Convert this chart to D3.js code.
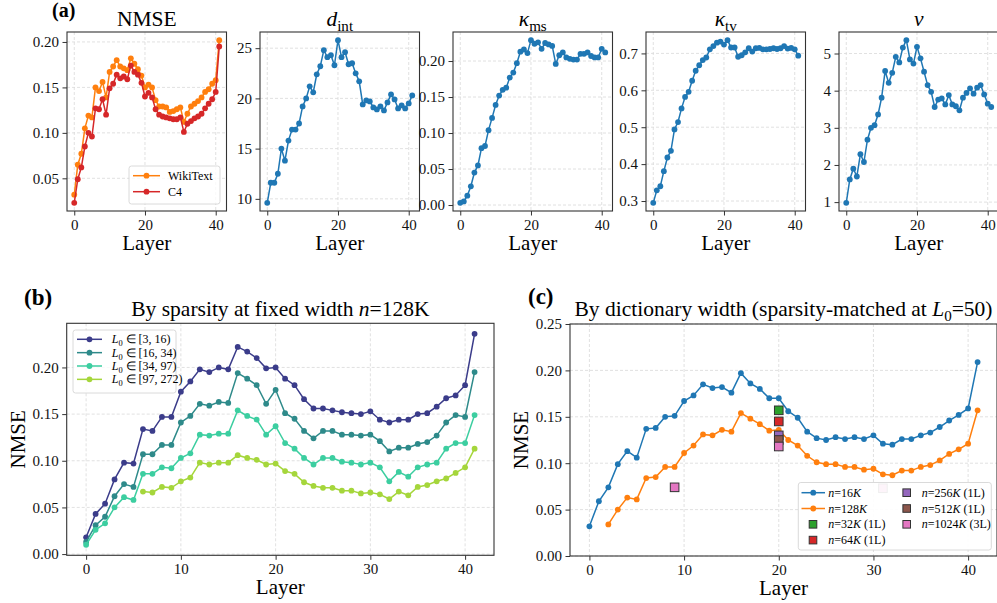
<!DOCTYPE html>
<html>
<head>
<meta charset="utf-8">
<script src="https://cdn.jsdelivr.net/npm/d3@7"></script>
<style>
body { margin: 0; background: #fff; }
svg { font-family: "Liberation Serif", "Times New Roman", serif; }
.axis text { font-size: 15px; fill: #111; }
.axis { color: #333; }
.grid { stroke: #d9d9d9; stroke-width: 0.8; stroke-dasharray: 3,2; }
</style>
</head>
<body>
<svg id="fig" width="997" height="603"></svg>
<script>
// layers 0..41
var layers = d3.range(42)

// (a) per-layer metrics
var nmseWiki = [0.032, 0.065, 0.077, 0.105, 0.119, 0.117, 0.150, 0.146, 0.156, 0.139, 0.167, 0.173, 0.180, 0.173, 0.171, 0.169,
    0.182, 0.176, 0.170, 0.163, 0.150, 0.153, 0.150, 0.136, 0.129, 0.129, 0.128, 0.123, 0.124, 0.126, 0.128, 0.112,
    0.121, 0.129, 0.132, 0.135, 0.139, 0.145, 0.148, 0.154, 0.158, 0.202]
var nmseC4 = [0.023, 0.049, 0.062, 0.085, 0.100, 0.096, 0.127, 0.126, 0.137, 0.120, 0.149, 0.154, 0.164, 0.160, 0.162, 0.159,
    0.174, 0.167, 0.164, 0.155, 0.140, 0.144, 0.139, 0.126, 0.120, 0.118, 0.117, 0.116, 0.115, 0.115, 0.117, 0.101,
    0.110, 0.113, 0.116, 0.118, 0.121, 0.127, 0.132, 0.137, 0.145, 0.195]
var dInt = [9.6, 11.6, 11.6, 12.5, 15.0, 13.8, 15.8, 16.9, 16.9, 17.5, 19.2, 20.0, 21.2, 20.6, 22.4, 23.2,
    24.8, 24.1, 24.3, 23.3, 25.8, 24.1, 24.6, 23.4, 23.5, 22.5, 21.7, 19.4, 19.8, 19.7, 19.1, 18.9,
    19.2, 18.8, 19.6, 20.4, 19.9, 19.0, 19.3, 19.0, 19.5, 20.3]
var kappaMs = [0.003, 0.005, 0.013, 0.026, 0.045, 0.055, 0.079, 0.082, 0.104, 0.121, 0.139, 0.152, 0.160, 0.163, 0.177, 0.184,
    0.197, 0.213, 0.216, 0.211, 0.229, 0.224, 0.226, 0.217, 0.225, 0.223, 0.221, 0.196, 0.208, 0.212, 0.205, 0.203,
    0.202, 0.202, 0.210, 0.210, 0.212, 0.207, 0.205, 0.205, 0.217, 0.212]
var kappaTv = [0.295, 0.329, 0.340, 0.381, 0.418, 0.436, 0.494, 0.514, 0.551, 0.582, 0.596, 0.626, 0.653, 0.668, 0.682, 0.689,
    0.711, 0.720, 0.729, 0.732, 0.724, 0.736, 0.716, 0.716, 0.691, 0.695, 0.703, 0.714, 0.705, 0.714, 0.715, 0.711,
    0.711, 0.712, 0.714, 0.712, 0.714, 0.720, 0.713, 0.715, 0.711, 0.694]
var nu = [0.98, 1.61, 1.90, 1.69, 2.29, 2.08, 2.68, 3.00, 3.07, 3.36, 3.81, 4.53, 4.21, 4.48, 4.91, 4.76,
    5.16, 5.36, 4.84, 4.73, 5.18, 4.87, 4.51, 4.15, 3.97, 3.56, 3.76, 3.79, 3.63, 3.88, 3.63, 3.58,
    3.47, 3.81, 3.94, 4.06, 3.92, 4.08, 4.15, 3.90, 3.65, 3.56]

// (b) NMSE by sparsity bucket at n=128K
var l0Buckets = ['[3, 16)', '[16, 34)', '[34, 97)', '[97, 272)']
var l0Colors = ['#3b3c8a', '#2e8a8a', '#3ccea0', '#a5d63b']
var l0Low = [0.018, 0.043, 0.054, 0.080, 0.098, 0.097, 0.134, 0.132, 0.147, 0.147, 0.174, 0.185, 0.198, 0.195, 0.200, 0.198,
    0.222, 0.217, 0.210, 0.199, 0.200, 0.188, 0.181, 0.166, 0.156, 0.156, 0.154, 0.152, 0.151, 0.150, 0.153, 0.144,
    0.141, 0.144, 0.144, 0.150, 0.151, 0.158, 0.167, 0.170, 0.181, 0.236]
var l0Mid1 = [0.013, 0.031, 0.040, 0.062, 0.075, 0.072, 0.107, 0.107, 0.117, 0.117, 0.141, 0.148, 0.161, 0.159, 0.163, 0.162,
    0.194, 0.188, 0.181, 0.161, 0.176, 0.151, 0.145, 0.132, 0.124, 0.132, 0.132, 0.128, 0.128, 0.127, 0.128, 0.121,
    0.110, 0.114, 0.114, 0.118, 0.120, 0.127, 0.141, 0.149, 0.147, 0.195]
var l0Mid2 = [0.010, 0.026, 0.033, 0.050, 0.061, 0.058, 0.086, 0.086, 0.093, 0.092, 0.103, 0.108, 0.128, 0.127, 0.129, 0.129,
    0.154, 0.148, 0.144, 0.128, 0.137, 0.119, 0.113, 0.103, 0.096, 0.103, 0.103, 0.099, 0.098, 0.096, 0.098, 0.093,
    0.078, 0.088, 0.083, 0.093, 0.096, 0.098, 0.113, 0.119, 0.119, 0.149]
var l0High = [null, null, null, null, null, null, 0.067, 0.066, 0.072, 0.071, 0.078, 0.082, 0.098, 0.096, 0.098, 0.098,
    0.106, 0.103, 0.101, 0.096, 0.097, 0.089, 0.086, 0.077, 0.073, 0.071, 0.071, 0.068, 0.068, 0.065, 0.066, 0.064,
    0.059, 0.067, 0.063, 0.072, 0.074, 0.078, 0.081, 0.087, 0.093, 0.113]

// (c) NMSE by dictionary width at L0=50
var width16K = [0.032, 0.059, 0.074, 0.099, 0.113, 0.106, 0.137, 0.138, 0.150, 0.151, 0.167, 0.173, 0.185, 0.181, 0.182, 0.176,
    0.197, 0.186, 0.180, 0.170, 0.170, 0.156, 0.149, 0.134, 0.127, 0.125, 0.128, 0.126, 0.128, 0.126, 0.130, 0.121,
    0.120, 0.126, 0.126, 0.130, 0.133, 0.139, 0.146, 0.152, 0.159, 0.209]
var width128K = [null, null, 0.034, 0.050, 0.063, 0.061, 0.084, 0.085, 0.096, 0.096, 0.111, 0.119, 0.131, 0.130, 0.136, 0.134,
    0.154, 0.148, 0.142, 0.135, 0.136, 0.125, 0.119, 0.108, 0.101, 0.099, 0.099, 0.096, 0.096, 0.093, 0.094, 0.088,
    0.087, 0.092, 0.092, 0.096, 0.098, 0.103, 0.110, 0.115, 0.121, 0.157]
var extraWidths = ['32K', '64K', '256K', '512K', '1024K']
var extraTag = ['1L', '1L', '1L', '1L', '3L']
var extraColors = ['#2ca02c', '#d62728', '#9467bd', '#8c564b', '#e377c2']
var extraLayers = [[20], [20], [20], [20], [9, 20, 31]]
var extraNmse = [[0.157], [0.145], [0.130], [0.125], [0.074, 0.118, 0.073]]

var svg = d3.select('#fig')

// text with italic / subscript pieces
function rich(sel, parts, size) {
    var shift = 0
    parts.forEach(function(p) {
        var ts = sel.append('tspan').text(p.t)
        if (p.i) ts.attr('font-style', 'italic')
        var target = p.sub ? size * 0.25 : 0
        if (target !== shift) {
            ts.attr('dy', target - shift)
            shift = target
        }
        if (p.sub) ts.attr('font-size', size * 0.7)
    })
}

function panel(cfg) {
    var x = d3.scaleLinear().domain([-2.05, 43.05]).range([cfg.left, cfg.right])
    var yd = cfg.yDomain
    if (!yd) {
        var lo = d3.min(cfg.series, function(s) { return d3.min(s.values) })
        var hi = d3.max(cfg.series, function(s) { return d3.max(s.values) })
        var pad = (hi - lo) * 0.05
        yd = [lo - pad, hi + pad]
    }
    var y = d3.scaleLinear().domain(yd).range([cfg.bottom, cfg.top])
    var g = svg.append('g')

    g.append('g').selectAll('line').data(cfg.xTicks).join('line')
        .attr('class', 'grid')
        .attr('x1', function(d) { return x(d) }).attr('x2', function(d) { return x(d) })
        .attr('y1', cfg.top).attr('y2', cfg.bottom)
    g.append('g').selectAll('line').data(cfg.yTicks).join('line')
        .attr('class', 'grid')
        .attr('y1', function(d) { return y(d) }).attr('y2', function(d) { return y(d) })
        .attr('x1', cfg.left).attr('x2', cfg.right)

    g.append('g').attr('class', 'axis')
        .attr('transform', 'translate(0,' + cfg.bottom + ')')
        .call(d3.axisBottom(x).tickValues(cfg.xTicks).tickSize(4.5).tickPadding(3.5).tickFormat(d3.format('d')))
        .attr('font-size', null).attr('font-family', null)
        .call(function(a) { a.select('.domain').remove() })
    g.append('g').attr('class', 'axis')
        .attr('transform', 'translate(' + cfg.left + ',0)')
        .call(d3.axisLeft(y).tickValues(cfg.yTicks).tickSize(4.5).tickPadding(3.5).tickFormat(d3.format(cfg.yFormat)))
        .attr('font-size', null).attr('font-family', null)
        .call(function(a) { a.select('.domain').remove() })

    var line = d3.line()
        .defined(function(d) { return d[1] != null })
        .x(function(d) { return x(d[0]) })
        .y(function(d) { return y(d[1]) })

    cfg.series.forEach(function(s) {
        var pts = layers.map(function(l, i) { return [l, s.values[i]] })
        g.append('path').datum(pts)
            .attr('d', line)
            .attr('fill', 'none')
            .attr('stroke', s.color)
            .attr('stroke-width', 1.5)
        g.append('g').selectAll('circle')
            .data(pts.filter(function(d) { return d[1] != null }))
            .join('circle')
            .attr('cx', function(d) { return x(d[0]) })
            .attr('cy', function(d) { return y(d[1]) })
            .attr('r', 2.9)
            .attr('fill', s.color)
    })

    // title
    var t = svg.append('text')
        .attr('x', (cfg.left + cfg.right) / 2)
        .attr('y', cfg.titleY)
        .attr('text-anchor', 'middle')
        .attr('font-size', 21.5)
    rich(t, cfg.title, 21.5)

    svg.append('text')
        .attr('x', (cfg.left + cfg.right) / 2)
        .attr('y', cfg.bottom + 39)
        .attr('text-anchor', 'middle')
        .attr('font-size', 21)
        .text('Layer')

    if (cfg.yLabel) {
        svg.append('text')
            .attr('transform', 'translate(' + cfg.yLabelX + ',' + (cfg.top + cfg.bottom) / 2 + ') rotate(-90)')
            .attr('text-anchor', 'middle')
            .attr('font-size', 21)
            .text(cfg.yLabel)
    }

    return { g: g, x: x, y: y }
}

function frame(p, cfg) {
    p.g.append('rect')
        .attr('x', cfg.left).attr('y', cfg.top)
        .attr('width', cfg.right - cfg.left).attr('height', cfg.bottom - cfg.top)
        .attr('fill', 'none').attr('stroke', '#333').attr('stroke-width', 1.1)
}

function legendBox(g, x0, y0, w, h, alpha) {
    g.append('rect')
        .attr('x', x0).attr('y', y0).attr('width', w).attr('height', h)
        .attr('rx', 2.5)
        .attr('fill', '#fff').attr('fill-opacity', alpha)
        .attr('stroke', '#d0d0d0').attr('stroke-width', 0.8)
}

function lineHandle(g, x0, x1, yy, color) {
    g.append('line').attr('x1', x0).attr('x2', x1).attr('y1', yy).attr('y2', yy)
        .attr('stroke', color).attr('stroke-width', 1.5)
    g.append('circle').attr('cx', (x0 + x1) / 2).attr('cy', yy).attr('r', 2.9).attr('fill', color)
}

// ---- panel (a)
var aTop = 32, aBottom = 211, aW = 159.5
var aPanels = [
    { title: [{ t: 'NMSE' }], series: [{ values: nmseWiki, color: '#ff7f0e' }, { values: nmseC4, color: '#d62728' }],
      yTicks: [0.05, 0.10, 0.15, 0.20], yFormat: '.2f' },
    { title: [{ t: 'd', i: true }, { t: 'int', sub: true }], series: [{ values: dInt, color: '#1f77b4' }],
      yTicks: [10, 15, 20, 25], yFormat: 'd' },
    { title: [{ t: 'κ', i: true }, { t: 'ms', sub: true }], series: [{ values: kappaMs, color: '#1f77b4' }],
      yTicks: [0, 0.05, 0.10, 0.15, 0.20], yFormat: '.2f' },
    { title: [{ t: 'κ', i: true }, { t: 'tv', sub: true }], series: [{ values: kappaTv, color: '#1f77b4' }],
      yTicks: [0.3, 0.4, 0.5, 0.6, 0.7], yFormat: '.1f' },
    { title: [{ t: 'ν', i: true }], series: [{ values: nu, color: '#1f77b4' }],
      yTicks: [1, 2, 3, 4, 5], yFormat: 'd' }
]
aPanels.forEach(function(c, k) {
    c.left = 67 + k * 193
    c.right = c.left + aW
    c.top = aTop
    c.bottom = aBottom
    c.xTicks = [0, 20, 40]
    c.titleY = 26
    var p = panel(c)
    if (k === 0) {
        legendBox(p.g, 129, 166, 91, 38, 0.8)
        var names = ['WikiText', 'C4']
        c.series.forEach(function(s, i) {
            var yy = 175.7 + i * 16
            lineHandle(p.g, 133, 160, yy, s.color)
            p.g.append('text').attr('x', 168).attr('y', yy + 4).attr('font-size', 12).text(names[i])
        })
    }
    frame(p, c)
})

svg.append('text').attr('x', 52).attr('y', 17).attr('font-size', 20).attr('font-weight', 'bold').text('(a)')
svg.append('text').attr('x', 24).attr('y', 305).attr('font-size', 23).attr('font-weight', 'bold').text('(b)')
svg.append('text').attr('x', 528).attr('y', 304).attr('font-size', 23).attr('font-weight', 'bold').text('(c)')

// ---- panel (b)
var bCfg = {
    left: 66.7, right: 494, top: 323.3, bottom: 555.3,
    title: [{ t: 'By sparsity at fixed width ' }, { t: 'n', i: true }, { t: '=128K' }],
    titleY: 316,
    series: [l0Low, l0Mid1, l0Mid2, l0High].map(function(v, i) { return { values: v, color: l0Colors[i] } }),
    xTicks: [0, 10, 20, 30, 40],
    yTicks: [0, 0.05, 0.10, 0.15, 0.20], yFormat: '.2f',
    yLabel: 'NMSE', yLabelX: 25
}
var pb = panel(bCfg)
legendBox(pb.g, 73, 330, 103, 63, 0.8)
l0Buckets.forEach(function(b, i) {
    var yy = 339.3 + i * 13.35
    lineHandle(pb.g, 77, 102, yy, l0Colors[i])
    var t = pb.g.append('text').attr('x', 111.7).attr('y', yy + 4).attr('font-size', 12)
    rich(t, [{ t: 'L', i: true }, { t: '0', sub: true }, { t: ' ∈ ' + b }], 12)
})
frame(pb, bCfg)

// ---- panel (c)
var cCfg = {
    left: 570, right: 997, top: 324, bottom: 556,
    yDomain: [0, 0.25],
    title: [{ t: 'By dictionary width (sparsity-matched at ' }, { t: 'L', i: true }, { t: '0', sub: true }, { t: '=50)' }],
    titleY: 316,
    series: [{ values: width16K, color: '#1f77b4' }, { values: width128K, color: '#ff7f0e' }],
    xTicks: [0, 10, 20, 30, 40],
    yTicks: [0, 0.05, 0.10, 0.15, 0.20, 0.25], yFormat: '.2f',
    yLabel: 'NMSE', yLabelX: 528
}
var pc = panel(cCfg)
var sq = 8.6
extraWidths.forEach(function(w, i) {
    pc.g.append('g').selectAll('rect')
        .data(extraLayers[i].map(function(l, j) { return [l, extraNmse[i][j]] }))
        .join('rect')
        .attr('x', function(d) { return pc.x(d[0]) - sq / 2 })
        .attr('y', function(d) { return pc.y(d[1]) - sq / 2 })
        .attr('width', sq).attr('height', sq)
        .attr('fill', extraColors[i])
        .attr('stroke', '#333').attr('stroke-width', 1)
})

legendBox(pc.g, 798.3, 482.5, 193, 67.5, 0.92)
var cNames = ['16', '128']
cNames.forEach(function(n, i) {
    var yy = 492.7 + i * 15.8
    lineHandle(pc.g, 801.5, 825, yy, cCfg.series[i].color)
    var t = pc.g.append('text').attr('x', 828.3).attr('y', yy + 4).attr('font-size', 12)
    rich(t, [{ t: 'n', i: true }, { t: '=' + n }, { t: 'K', i: true }], 12)
})
extraWidths.forEach(function(w, i) {
    var col = i < 2 ? 0 : 1
    var row = i < 2 ? i + 2 : i - 2
    var cx = col === 0 ? 813 : 906.7
    var tx = col === 0 ? 828.3 : 921.7
    var yy = 492.7 + row * 15.8
    pc.g.append('rect').attr('x', cx - 3.8).attr('y', yy - 3.8).attr('width', 7.6).attr('height', 7.6)
        .attr('fill', extraColors[i]).attr('stroke', '#333').attr('stroke-width', 1)
    var t = pc.g.append('text').attr('x', tx).attr('y', yy + 4).attr('font-size', 12)
    rich(t, [{ t: 'n', i: true }, { t: '=' + w.replace('K', '') }, { t: 'K', i: true }, { t: ' (' + extraTag[i] + ')' }], 12)
})
frame(pc, cCfg)
</script>
</body>
</html>
